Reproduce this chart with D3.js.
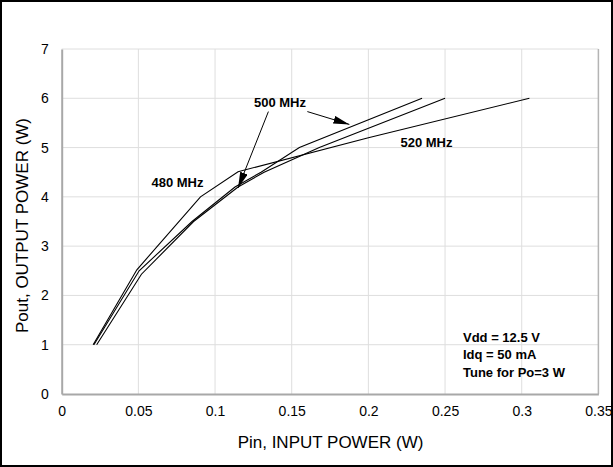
<!DOCTYPE html>
<html>
<head>
<meta charset="utf-8">
<script src="https://cdn.jsdelivr.net/npm/d3@7/dist/d3.min.js"></script>
<style>
  html, body { margin: 0; padding: 0; background: #fff; }
  svg { display: block; }
  text { font-family: "Liberation Sans", Arial, sans-serif; fill: #000; }
</style>
</head>
<body>
<svg id="chart" width="613" height="467"></svg>
<script>
// ---- data ----
const xTicks = [0, 0.05, 0.1, 0.15, 0.2, 0.25, 0.3, 0.35];
const xTickLabels = ["0", "0.05", "0.1", "0.15", "0.2", "0.25", "0.3", "0.35"];
const yTicks = [0, 1, 2, 3, 4, 5, 6, 7];
const yTickLabels = ["0", "1", "2", "3", "4", "5", "6", "7"];

// Pin (W), Pout (W) for each frequency
const pin480  = [0.0205, 0.049, 0.0905, 0.115, 0.200, 0.305];
const pout480 = [1.0,    2.52,  4.0,    4.51,  5.2,   6.0];
const pin500  = [0.021, 0.0505, 0.085, 0.113, 0.130, 0.155, 0.235];
const pout500 = [1.0,   2.5,    3.5,   4.2,   4.5,   5.0,   6.0];
const pin520  = [0.0228, 0.052, 0.086, 0.115, 0.132, 0.168, 0.250];
const pout520 = [1.0,    2.43,  3.5,   4.2,   4.5,   5.0,   6.0];

const seriesNames = ["480 MHz", "500 MHz", "520 MHz"];
const notes = ["Vdd = 12.5 V", "Idq = 50 mA", "Tune for Po=3 W"];
const xTitle = "Pin, INPUT POWER (W)";
const yTitle = "Pout, OUTPUT POWER (W)";

// ---- layout ----
const W = 613, H = 467;
const svg = d3.select("#chart");
const x = d3.scaleLinear().domain([0, 0.35]).range([61.7, 598.4]);
const y = d3.scaleLinear().domain([0, 7]).range([394, 49]);

// outer frame
svg.append("rect").attr("x", 1).attr("y", 1).attr("width", W - 2).attr("height", H - 2)
  .attr("fill", "#fff").attr("stroke", "#000").attr("stroke-width", 2);

// grid
const grid = svg.append("g");
grid.selectAll("line.gx").data(xTicks.slice(1, -1)).join("line")
  .attr("x1", d => x(d)).attr("x2", d => x(d)).attr("y1", y(7)).attr("y2", y(0))
  .attr("stroke", "#dedede").attr("stroke-width", 1);
grid.selectAll("line.gy").data(yTicks.slice(1)).join("line")
  .attr("x1", x(0)).attr("x2", x(0.35)).attr("y1", d => y(d)).attr("y2", d => y(d))
  .attr("stroke", "#dedede").attr("stroke-width", 1);
// right border
svg.append("line").attr("x1", x(0.35)).attr("x2", x(0.35)).attr("y1", y(7)).attr("y2", y(0))
  .attr("stroke", "#b4b4b4").attr("stroke-width", 1.5);

// axes
const xAxis = d3.axisBottom(x).tickValues(xTicks).tickFormat((d, i) => xTickLabels[i]).tickSize(0).tickPadding(12);
const gx = svg.append("g").attr("transform", `translate(0,${y(0)})`).call(xAxis);
gx.select(".domain").attr("stroke", "#a8a8a8").attr("stroke-width", 2);
gx.selectAll("text").attr("font-size", "14px").attr("font-family", "Liberation Sans, Arial, sans-serif");

const yAxis = d3.axisLeft(y).tickValues(yTicks).tickFormat((d, i) => yTickLabels[i]).tickSize(0).tickPadding(13);
const gy = svg.append("g").attr("transform", `translate(${x(0)},0)`).call(yAxis);
gy.select(".domain").attr("stroke", "#a8a8a8").attr("stroke-width", 2);
gy.selectAll("text").attr("font-size", "14px").attr("font-family", "Liberation Sans, Arial, sans-serif");

// titles
svg.append("text").attr("x", 330.5).attr("y", 448).attr("text-anchor", "middle")
  .attr("font-size", "17px").text(xTitle);
svg.append("text").attr("transform", "translate(28,225.5) rotate(-90)").attr("text-anchor", "middle")
  .attr("font-size", "17px").text(yTitle);

// curves
const line = d3.line().x(d => x(d[0])).y(d => y(d[1]));
const series = [
  d3.zip(pin480, pout480),
  d3.zip(pin500, pout500),
  d3.zip(pin520, pout520)
];
svg.append("g").selectAll("path").data(series).join("path")
  .attr("d", line).attr("fill", "none").attr("stroke", "#000").attr("stroke-width", 1.1);

// labels
const lab = svg.append("g").attr("font-weight", "bold").attr("font-size", "13px");
lab.append("text").attr("x", 177.5).attr("y", 186.5).attr("text-anchor", "middle").text(seriesNames[0]);
lab.append("text").attr("x", 280).attr("y", 107).attr("text-anchor", "middle").text(seriesNames[1]);
lab.append("text").attr("x", 426.5).attr("y", 147).attr("text-anchor", "middle").text(seriesNames[2]);

// arrows from "500 MHz"
svg.append("defs").append("marker").attr("id", "ah")
  .attr("viewBox", "0 0 16 8").attr("refX", 16).attr("refY", 4)
  .attr("markerWidth", 16).attr("markerHeight", 8).attr("markerUnits", "userSpaceOnUse")
  .attr("orient", "auto")
  .append("path").attr("d", "M0,0 L16,4 L0,8 Z").attr("fill", "#000");
const arrows = [
  [[0.1348, 5.73], [0.115, 4.18]],
  [[0.1602, 5.73], [0.1876, 5.47]]
];
svg.append("g").selectAll("line").data(arrows).join("line")
  .attr("x1", d => x(d[0][0])).attr("y1", d => y(d[0][1]))
  .attr("x2", d => x(d[1][0])).attr("y2", d => y(d[1][1]))
  .attr("stroke", "#000").attr("stroke-width", 1).attr("marker-end", "url(#ah)");

// notes
const nt = svg.append("g").attr("font-weight", "bold").attr("font-size", "13px");
nt.selectAll("text").data(notes).join("text")
  .attr("x", 463).attr("y", (d, i) => 341.5 + i * 17.5).text(d => d);
</script>
</body>
</html>
